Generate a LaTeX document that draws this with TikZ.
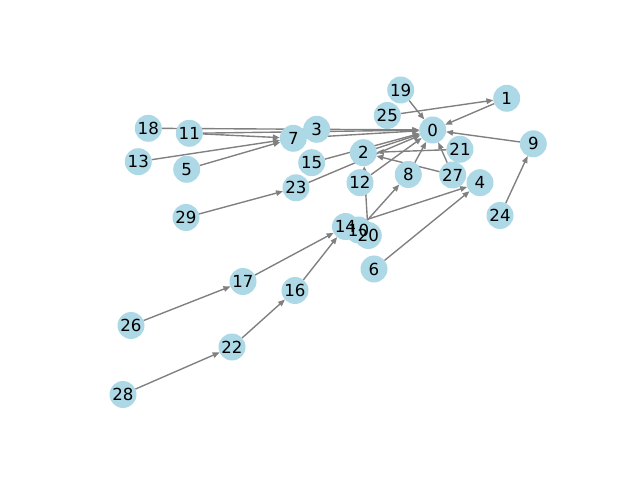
\documentclass[tikz,border=0pt]{standalone}
\usepackage{fontspec}
\setmainfont{DejaVu Sans}
\usetikzlibrary{arrows.meta}
\pgfdeclarelayer{background}
\pgfdeclarelayer{foreground}
\pgfsetlayers{background,main,foreground}
\definecolor{nodeblue}{RGB}{173,216,230}
\definecolor{edgegray}{RGB}{128,128,128}
\tikzset{
  vtx/.style={circle, fill=nodeblue, draw=none, minimum size=19.5pt, inner sep=0pt, outer sep=0pt},
  lbl/.style={inner sep=0pt, font=\fontsize{12}{14}\selectfont},
  edg/.style={draw=edgegray, line width=1pt, -{Triangle[length=5pt,width=4pt]}}
}
\begin{document}
\begin{tikzpicture}[x=0.01in, y=-0.01in]
\useasboundingbox (0,0) rectangle (640,480);
\node[vtx] (n0) at (432.7,130) {};
\node[vtx] (n1) at (506.7,98.3) {};
\node[vtx] (n2) at (363.3,152.7) {};
\node[vtx] (n3) at (316.7,129.3) {};
\node[vtx] (n4) at (480,182.7) {};
\node[vtx] (n5) at (186.7,169.3) {};
\node[vtx] (n6) at (374,269) {};
\node[vtx] (n7) at (293.3,138.3) {};
\node[vtx] (n8) at (408.3,174.5) {};
\node[vtx] (n9) at (533.3,143.8) {};
\node[vtx] (n11) at (189.3,133.3) {};
\node[vtx] (n12) at (360,182.7) {};
\node[vtx] (n13) at (138.3,161.7) {};
\node[vtx] (n14) at (345.5,226.5) {};
\node[vtx] (n10) at (358.5,230) {};
\node[vtx] (n20) at (368.3,235.5) {};
\node[vtx] (n15) at (311.7,162.7) {};
\node[vtx] (n16) at (295,290.5) {};
\node[vtx] (n17) at (243,281.5) {};
\node[vtx] (n18) at (148.3,128.3) {};
\node[vtx] (n19) at (400.7,90) {};
\node[vtx] (n21) at (460,149.3) {};
\node[vtx] (n22) at (232,347) {};
\node[vtx] (n23) at (296,187.8) {};
\node[vtx] (n24) at (500,215.5) {};
\node[vtx] (n25) at (387.3,115.5) {};
\node[vtx] (n26) at (131,325.5) {};
\node[vtx] (n27) at (452.7,175) {};
\node[vtx] (n28) at (123,394.5) {};
\node[vtx] (n29) at (186,217.5) {};
\begin{pgfonlayer}{foreground}
\node[lbl] (t0) at (n0) {0};
\node[lbl] (t1) at (n1) {1};
\node[lbl] (t2) at (n2) {2};
\node[lbl] (t3) at (n3) {3};
\node[lbl] (t4) at (n4) {4};
\node[lbl] (t5) at (n5) {5};
\node[lbl] (t6) at (n6) {6};
\node[lbl] (t7) at (n7) {7};
\node[lbl] (t8) at (n8) {8};
\node[lbl] (t9) at (n9) {9};
\node[lbl] (t11) at (n11) {11};
\node[lbl] (t12) at (n12) {12};
\node[lbl] (t13) at (n13) {13};
\node[lbl] (t14) at (n14) {14};
\node[lbl] (t10) at (n10) {10};
\node[lbl] (t20) at (n20) {20};
\node[lbl] (t15) at (n15) {15};
\node[lbl] (t16) at (n16) {16};
\node[lbl] (t17) at (n17) {17};
\node[lbl] (t18) at (n18) {18};
\node[lbl] (t19) at (n19) {19};
\node[lbl] (t21) at (n21) {21};
\node[lbl] (t22) at (n22) {22};
\node[lbl] (t23) at (n23) {23};
\node[lbl] (t24) at (n24) {24};
\node[lbl] (t25) at (n25) {25};
\node[lbl] (t26) at (n26) {26};
\node[lbl] (t27) at (n27) {27};
\node[lbl] (t28) at (n28) {28};
\node[lbl] (t29) at (n29) {29};
\end{pgfonlayer}
\begin{pgfonlayer}{background}
\draw[edg] (n19) -- (n0);
\draw[edg] (n25) -- (n1);
\draw[edg] (n1) -- (n0);
\draw[edg] (n9) -- (n0);
\draw[edg] (n18) -- (n0);
\draw[edg] (n11) -- (n0);
\draw[edg] (n7) -- (n0);
\draw[edg] (n15) -- (n0);
\draw[edg] (n2) -- (n0);
\draw[edg] (n23) -- (n0);
\draw[edg] (n12) -- (n0);
\draw[edg] (n8) -- (n0);
\draw[edg] (n27) -- (n0);
\draw[edg] (n11) -- (n7);
\draw[edg] (n13) -- (n7);
\draw[edg] (n5) -- (n7);
\draw[edg] (n29) -- (n23);
\draw[edg] (n20) -- (n2);
\draw[edg] (n21) -- (n2);
\draw[edg] (n27) -- (n2);
\draw[edg] (n10) -- (n8);
\draw[edg] (n14) -- (n4);
\draw[edg] (n6) -- (n4);
\draw[edg] (n24) -- (n9);
\draw[edg] (n17) -- (n14);
\draw[edg] (n16) -- (n14);
\draw[edg] (n26) -- (n17);
\draw[edg] (n22) -- (n16);
\draw[edg] (n28) -- (n22);
\end{pgfonlayer}
\end{tikzpicture}
\end{document}
